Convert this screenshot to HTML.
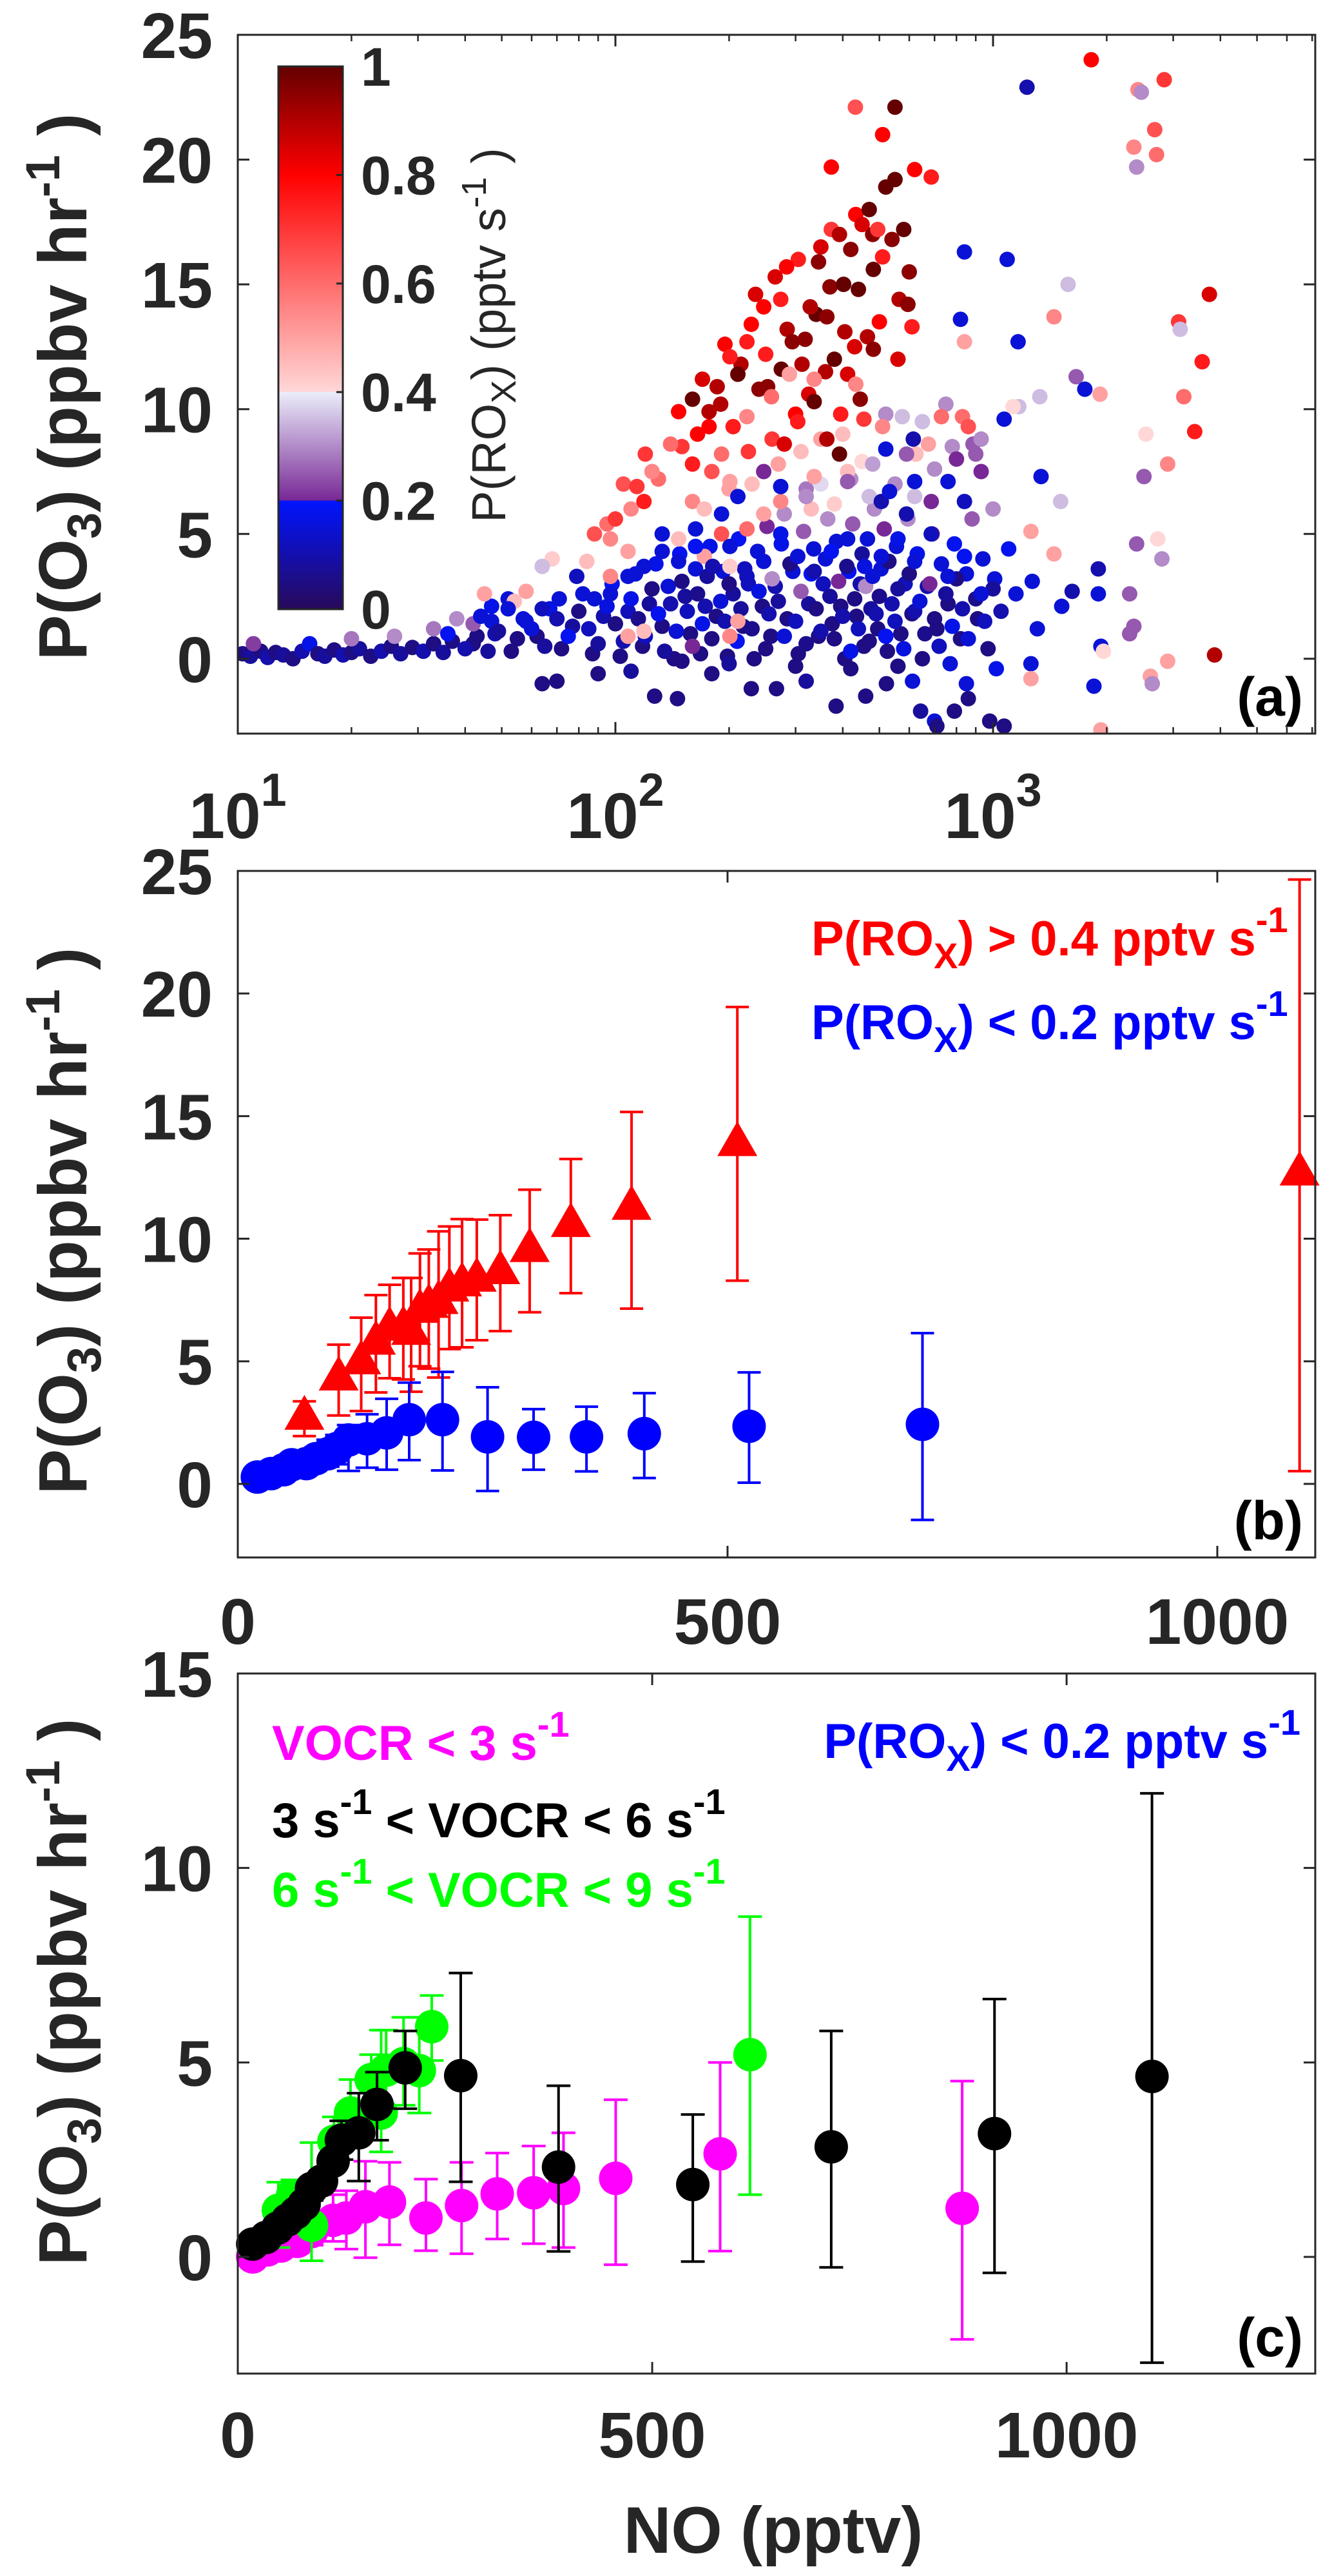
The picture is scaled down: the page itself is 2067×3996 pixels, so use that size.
<!DOCTYPE html>
<html>
<head>
<meta charset="utf-8">
<style>
html,body{margin:0;padding:0;background:#fff;}
svg{display:block;}
text{font-family:"Liberation Sans",Arial,sans-serif;}
</style>
</head>
<body>
<svg id="fig" xmlns="http://www.w3.org/2000/svg" width="2067" height="3996" viewBox="0 0 2067 3996">
<defs>
<linearGradient id="cmap" x1="0" y1="1" x2="0" y2="0">
<stop offset="0" stop-color="rgb(40,10,90)"/>
<stop offset="0.2" stop-color="rgb(0,20,255)"/>
<stop offset="0.2" stop-color="rgb(120,40,150)"/>
<stop offset="0.4" stop-color="rgb(235,237,250)"/>
<stop offset="0.4" stop-color="rgb(255,215,215)"/>
<stop offset="0.8" stop-color="rgb(255,0,0)"/>
<stop offset="1" stop-color="rgb(100,0,0)"/>
</linearGradient>
</defs>
<g id="panelA"></g>
<g id="panelB"></g>
<g id="panelC"></g>
</svg>
<script>
// ===== Panel (a) scatter data: NO (pptv), P(O3) (ppbv/hr), P(ROx) (pptv/s) =====
const aNO = [
10.3,10.8,11.5,12,12.6,13.2,14,14.8,15.5,16.3,17,18,19,20,21,22.5,24,25.5,27,29,31,33,35,37,40,43,46,11,20,26,33,38,42,36,44,47,52,
55,60,65,70,75,80,85,90,95,100,105,110,115,120,125,130,135,140,145,150,155,160,165,170,175,180,190,195,200,210,215,220,230,240,250,255,260,270,280,290,300,310,320,330,340,350,360,370,380,390,400,410,420,430,440,450,460,470,480,490,500,520,530,550,560,580,600,620,640,660,680,700,720,750,780,800,830,860,900,950,1000,
64,70,90,110,127,146,180,229,267,320,384,460,522,643,700,710,790,860,980,1070,612,770,1020,1260,420,560,850,300,200,150,
147,160,177,186,201,223,229,247,274,284,294,312,328,345,363,373,392,402,433,450,470,482,495,510,520,550,564,580,595,610,620,686,550,432,510,373,412,445,482,336,280,392,363,304,253,211,177,160,119,114,100,88,97,125,140,191,223,259,289,336,433,510,625,730,830,860,674,247,201,172,147,108,84,68,64,58,54,45,97,211,201,108,119,412,336,274,223,191,172,201,
1170,1330,1510,1260,1450,1260,1450,1580,1820,1230,2420,2470,2840,2680,2360,2710,2400,3740,3100,3130,3580,3200,3420,2900,2510,2540,2730,2400,2800,2300,2360,2300,2900,2610,2640,3860,1930,1960,1900,1900,1850,1930,1620,1520,1310,1270,1340,1660,1750,1920,1130,1070,1165,1090,840,820,840,575,615,520,
133,147,163,181,201,223,247,274,304,336,373,412,457,506,560,620,686,760,840,930,506,532,590,620,686,760,840,930,800,885,930,590,412,320,274,247,211,191,163,133,119,108,97,88,79,71,64,58,52,47,49
];
const aPO3 = [
0.2,0.1,0.3,0.05,0.25,0.15,0.0,0.3,0.6,0.2,0.1,0.35,0.15,0.25,0.4,0.1,0.3,0.5,0.2,0.45,0.3,0.6,0.25,0.7,0.4,0.9,0.3,0.6,0.8,0.9,1.2,1.6,1.4,1.0,1.7,2.1,2.4,
0.8,1.2,0.5,1.6,0.9,1.9,1.2,0.6,2.1,1.4,0.7,2.4,1.6,0.9,2.8,1.8,0.3,2.2,1.1,3.1,1.9,0.5,2.6,1.4,3.3,0.8,2.3,1.5,3.0,0.7,2.0,3.6,1.2,2.7,0.4,1.8,3.2,2.3,0.9,3.8,1.5,2.7,0.6,3.4,2.0,1.1,4.0,2.5,0.8,3.1,1.7,3.7,0.3,2.4,1.2,4.2,2.9,0.7,3.3,1.8,2.5,0.9,3.9,1.5,2.8,0.4,3.4,1.9,2.3,1.0,3.0,1.6,0.5,2.6,1.3,3.2,2.0,0.8,2.4,1.5,2.8,
-1.0,-0.9,-0.6,-0.5,-1.5,-1.6,-0.6,-1.2,-1.2,-0.9,-1.9,-1.5,-1.0,-2.1,-2.5,-2.7,-2.1,-1.6,-2.5,-2.7,-0.9,-0.2,-0.4,-0.2,-0.4,-0.3,-1.0,-0.3,-0.2,-0.1,
9.9,10.4,9.3,10.9,12.1,12.7,13.4,14.1,14.4,15.7,12.7,11.8,14.1,15.9,13.7,17.2,17.0,15.0,17.8,17.4,18.0,15.6,17.2,16.1,18.9,19.2,14.4,17.2,14.2,13.3,19.6,19.3,22.1,22.1,21.0,19.7,11.4,10.4,12.4,10.3,8.6,8.2,8.8,9.5,10.9,11.4,9.9,7.8,6.3,6.9,5.6,5.0,4.8,7.5,8.6,8.2,9.7,10.5,11.4,11.2,11.0,9.3,8.2,9.7,9.7,9.3,8.6,5.8,7.1,6.0,4.8,4.3,3.9,4.0,3.7,2.7,2.3,2.6,3.3,1.5,0.9,0.9,1.1,7.5,7.3,6.3,5.2,5.0,4.1,3.7,
10.1,10.5,6.3,5.1,4.2,-0.8,13.7,15.0,24.0,22.9,22.8,22.7,23.2,21.2,20.5,20.2,19.7,14.6,13.5,13.2,11.9,10.5,9.1,7.8,7.3,9.0,4.8,4.6,4.0,2.6,1.3,1.0,-0.1,-0.7,-1.0,0.15,0.5,0.3,3.6,2.6,-1.1,-2.85,2.7,2.1,1.2,3.1,7.3,11.3,10.8,10.6,10.1,9.6,12.7,16.0,16.3,13.6,12.7,9.7,8.8,8.4,
4.3,3.9,4.5,3.7,4.5,3.3,3.9,5.0,4.1,3.5,4.3,4.8,3.7,4.1,4.8,3.9,5.0,3.3,4.1,2.6,6.3,6.7,5.8,7.1,6.3,7.1,6.3,7.5,8.0,8.6,8.8,8.2,7.1,6.5,6.9,7.5,6.5,5.8,5.2,5.0,3.7,3.3,2.6,2.4,3.3,2.4,2.0,1.5,2.0,1.5,1.1
];
const aPROx = [
.05,.08,.05,.1,.05,.08,.05,.1,.17,.05,.08,.05,.1,.05,.08,.05,.1,.05,.08,.05,.1,.05,.08,.05,.1,.05,.08,.22,.28,.3,.28,.3,.25,.18,.15,.17,.15,
.05,.15,.08,.1,.18,.05,.12,.08,.16,.05,.1,.17,.06,.12,.05,.18,.08,.1,.15,.05,.12,.2,.06,.17,.08,.05,.15,.1,.05,.18,.08,.12,.06,.16,.05,.1,.3,.08,.15,.05,.12,.25,.06,.18,.05,.1,.15,.08,.05,.2,.1,.06,.17,.05,.12,.08,.3,.05,.15,.1,.06,.18,.05,.12,.08,.16,.05,.1,.15,.06,.2,.05,.12,.08,.17,.05,.1,.15,.06,.12,.08,
.05,.05,.05,.08,.05,.05,.05,.05,.05,.08,.05,.05,.05,.08,.15,.05,.05,.05,.05,.05,.15,.15,.17,.15,.05,.05,.15,.05,.08,.05,
.8,1.0,.8,.9,.75,.75,.8,.8,.75,.8,.95,.9,.9,.95,.95,.7,.9,1.0,.8,.85,1.0,1.0,.7,.75,1.0,1.0,.9,1.0,.95,.75,.8,.75,1.0,.65,.8,.8,.85,.95,.95,1.0,.85,1.0,.9,.75,.95,1.0,.9,.75,.75,.7,.7,.65,.55,.55,.6,.6,.55,.6,.5,.55,.55,.55,.45,.6,.6,.65,.5,.5,.5,.45,.45,.5,.45,.42,.35,.5,.45,.5,.55,.5,.55,.5,.45,.45,.5,.55,.6,.65,.5,.42,
.35,.35,.35,.5,.5,.5,.55,.35,.8,.1,.55,.3,.7,.65,.55,.6,.3,.85,.7,.35,.75,.6,.75,.55,.25,.4,.4,.25,.3,.25,.25,.25,.5,.5,.3,.9,.15,.4,.1,.15,.15,.5,.1,.15,.15,.15,.15,.25,.15,.5,.4,.15,.15,.15,.15,.15,.5,.35,.1,.15,
.15,.15,.18,.1,.15,.12,.15,.17,.15,.1,.18,.15,.16,.15,.17,.15,.12,.15,.18,.15,.1,.15,.1,.15,.2,.15,.12,.2,.2,.25,.3,.25,.25,.3,.15,.2,.15,.15,.15,.15,.15,.15,.15,.15,.12,.15,.12,.15,.15,.15,.08
];
// additional hand-read points filling the dense cloud
const aNO2 = [
42,48,53,57,62,67,72,77,82,87,93,98,103,108,113,118,123,128,133,138,143,148,153,158,163,168,173,178,185,193,198,205,212,218,225,233,238,245,252,258,265,275,285,295,305,315,325,335,345,355,365,375,385,395,405,415,425,435,445,455,465,475,485,495,505,515,525,540,555,570,585,595,610,630,650,670,690,710,730,760,790,820,850,880,910,940,970,1010,1050,1100,1150,
150,165,170,180,190,195,205,215,225,235,240,250,260,265,275,285,300,305,318,325,340,350,360,370,380,395,405,420,430,440,455,465,480,500,540,560,600,130,120,110,105,95,160,200,230,270,310,350,400,450,380,330,
280,320,420,480,550,620,700,780,900,1000,520,650,750,470,350
];
const aPO32 = [
0.6,1.0,0.3,1.6,0.9,2.0,0.4,1.3,2.6,0.2,1.7,3.0,0.1,1.9,3.4,0.5,2.2,3.8,1.3,2.9,0.0,4.2,2.5,1.0,3.6,0.2,2.1,4.5,1.7,3.5,0.1,2.6,4.8,1.3,3.0,0.0,4.3,2.1,5.3,0.9,2.9,4.6,1.6,3.5,0.2,5.1,2.2,4.4,0.9,3.0,5.6,1.4,4.7,2.1,0.0,3.5,5.4,1.7,3.0,0.5,4.8,2.0,6.0,1.2,3.6,5.2,0.3,2.2,4.5,1.0,3.0,5.6,1.8,4.2,0.0,2.9,5.0,1.2,3.8,2.2,4.6,0.8,3.4,5.6,1.6,4.0,0.4,3.2,1.9,4.4,2.6,
8.5,9.0,11.2,7.5,10.2,12.6,9.3,11.8,8.3,14.6,10.8,12.2,8.8,15.3,11.6,13.2,9.8,16.0,12.8,10.6,13.8,16.5,11.5,14.9,12.0,9.8,13.1,16.4,12.5,14.8,9.6,12.9,17.0,13.5,16.8,12.0,15.5,7.2,8.2,6.0,7.0,5.4,6.3,6.8,7.0,7.8,8.3,8.8,9.0,7.9,6.2,6.0,
5.8,6.8,7.2,7.8,7.0,6.5,7.6,8.5,8.2,6.0,9.8,9.5,10.2,6.5,7.0
];
const aPROx2 = [
.05,.1,.05,.15,.05,.17,.05,.08,.15,.05,.1,.18,.05,.12,.15,.05,.08,.17,.05,.15,.05,.18,.08,.05,.15,.05,.1,.17,.05,.15,.05,.08,.18,.05,.12,.05,.15,.05,.2,.05,.1,.17,.05,.15,.05,.25,.08,.15,.05,.12,.3,.05,.15,.05,.05,.18,.25,.05,.1,.05,.15,.08,.3,.05,.15,.2,.05,.1,.15,.05,.12,.3,.05,.17,.05,.1,.2,.05,.15,.05,.18,.05,.15,.25,.05,.15,.05,.15,.1,.18,.15,
.7,.8,.85,.65,.9,.8,.75,.9,.7,.85,.95,.75,.7,.85,1.0,.9,.8,.75,.95,.85,1.0,.85,.9,.95,1.0,.75,.9,.95,.85,1.0,.7,.9,.95,.8,.95,.85,.95,.6,.7,.55,.65,.6,.55,.5,.45,.5,.45,.5,.45,.4,.42,.45,
.3,.28,.3,.32,.3,.35,.3,.3,.25,.3,.3,.35,.3,.35,.38
];
const aYTicks = [0,5,10,15,20,25];
const aXDecades = [1,2,3];
const cbTicks = [0,0.2,0.4,0.6,0.8,1];
const cbTickLabels = ["0","0.2","0.4","0.6","0.8","1"];

// ===== Panel (b) =====
const bRedNO  = [68,103,126,141,155,169,177,186,195,205,216,229,244,268,298,340,402,510,1084];
const bRedY   = [2.84,4.44,5.1,5.9,6.47,6.5,6.3,7.2,7.4,7.56,8.07,8.28,8.47,8.78,9.68,10.7,11.4,14.0,12.8];
const bRedHi  = [3.37,5.68,6.78,7.7,8.12,8.4,8.4,9.4,9.56,10.3,10.5,10.8,10.78,10.96,12.0,13.25,15.17,19.45,24.65];
const bRedLo  = [1.95,2.79,2.97,3.73,4.31,4.26,3.76,4.8,4.7,4.34,5.5,5.57,5.86,6.23,7.0,7.78,7.15,8.29,0.52];
const bBlueNO = [20,34,47,55,70,80,92,101,113,132,152,175,209,255,302,356,415,522,699];
const bBlueY  = [0.28,0.42,0.58,0.78,0.83,1.03,1.23,1.44,1.79,1.84,2.08,2.62,2.62,1.92,1.9,1.92,2.05,2.35,2.43];
const bBlueHi = [0.5,0.7,0.9,1.1,1.2,1.5,1.8,2.0,2.4,2.84,3.47,4.13,4.57,3.94,3.05,3.15,3.7,4.55,6.15];
const bBlueLo = [0.1,0.2,0.3,0.45,0.45,0.6,0.7,0.8,0.53,0.66,0.58,0.97,0.55,-0.29,0.58,0.51,0.24,0.05,-1.47];
const bXTicks = [0,500,1000];
const bYTicks = [0,5,10,15,20,25];

// ===== Panel (c) =====
const cMagNO = [18,36,52,72,89,115,131,154,183,227,270,313,357,393,456,582,874];
const cMagY  = [0.0,0.18,0.28,0.4,0.65,0.94,1.0,1.29,1.41,1.0,1.32,1.62,1.65,1.76,2.02,2.65,1.25];
const cMagHi = [0.3,0.5,0.6,0.8,1.1,1.6,1.7,2.46,2.43,2.0,2.43,2.67,2.85,3.19,4.04,5.0,4.52];
const cMagLo = [-0.2,-0.1,0.0,0.1,0.3,0.4,0.2,-0.02,0.31,0.16,0.08,0.46,0.34,0.24,-0.2,0.15,-2.12];
const cGrnNO = [49,66,89,116,136,161,173,179,200,219,234,618];
const cGrnY  = [1.2,1.58,0.81,2.97,3.7,4.56,3.7,4.8,4.97,4.79,5.92,5.2];
const cGrnHi = [1.92,1.98,2.94,3.6,4.56,5.2,5.83,5.83,6.16,6.16,6.72,8.75];
const cGrnLo = [0.24,0.9,-0.1,2.3,2.9,3.9,2.7,3.8,3.9,3.7,5.05,1.6];
const cBlkNO = [18,34,48,60,70,80,89,101,115,125,146,168,202,269,387,549,716,913,1103];
const cBlkY  = [0.33,0.5,0.74,0.95,1.13,1.35,1.76,1.95,2.46,3.0,3.19,3.92,4.86,4.66,2.31,1.86,2.83,3.17,4.64];
const cBlkHi = [0.5,0.7,0.95,1.2,1.38,1.6,2.0,2.2,2.7,3.5,4.21,4.75,5.81,7.3,4.4,3.66,5.81,6.63,11.92];
const cBlkLo = [0.15,0.3,0.5,0.7,0.9,1.1,1.45,1.7,2.2,2.5,1.95,3.0,3.81,1.93,0.14,-0.12,-0.27,-0.41,-2.72];
const cXTicks = [0,500,1000];
const cYTicks = [0,5,10,15];

const NS = "http://www.w3.org/2000/svg";
const AX = "#262626";
function el(tag, attrs, parent){
  const e = document.createElementNS(NS, tag);
  for (const k in attrs) e.setAttribute(k, attrs[k]);
  parent.appendChild(e);
  return e;
}
function lin(d0,d1,p0,p1){ return v => p0 + (v-d0)*(p1-p0)/(d1-d0); }

function cmap(v){
  const st = [[0,[40,10,90]],[0.1999,[0,20,255]],[0.2,[120,40,150]],[0.3999,[235,237,250]],[0.4,[255,215,215]],[0.8,[255,0,0]],[1,[100,0,0]]];
  v = Math.max(0, Math.min(1, v));
  for (let i=0;i<st.length-1;i++){
    const a=st[i], b=st[i+1];
    if (v<=b[0]){
      const t=(v-a[0])/(b[0]-a[0]||1);
      const c=a[1].map((x,j)=>Math.round(x+(b[1][j]-x)*t));
      return "rgb("+c.join(",")+")";
    }
  }
  return "rgb(100,0,0)";
}

function frame(g, L, R, T, B, name){
  const r = el("rect",{x:L,y:T,width:R-L,height:B-T,fill:"none",stroke:AX,"stroke-width":3},g);
  
  
}
function yTicks(g, ticks, ys, L, R, name){
  ticks.forEach(t=>{
    const y = ys(t);
    const l1 = el("line",{x1:L,y1:y,x2:L+18,y2:y,stroke:AX,"stroke-width":3},g);
    
    
    const l2 = el("line",{x1:R,y1:y,x2:R-18,y2:y,stroke:AX,"stroke-width":3},g);
    
    
    const tx = el("text",{x:330,y:y+36,"text-anchor":"end","font-size":100,"font-weight":"bold",fill:AX},g);
    tx.textContent = String(t);
    
    
  });
}
function xTicksLinear(g, ticks, xs, T, B, labelY, name){
  ticks.forEach(t=>{
    const x = xs(t);
    const l1 = el("line",{x1:x,y1:B,x2:x,y2:B-18,stroke:AX,"stroke-width":3},g);
    
    
    const l2 = el("line",{x1:x,y1:T,x2:x,y2:T+18,stroke:AX,"stroke-width":3},g);
    
    
    const tx = el("text",{x:x,y:labelY,"text-anchor":"middle","font-size":100,"font-weight":"bold",fill:AX},g);
    tx.textContent = String(t);
    
    
  });
}
function yLabel(g, cy, name){
  const t = el("text",{transform:"translate(134,"+cy+") rotate(-90)","text-anchor":"middle","font-size":106,"font-weight":"bold",fill:AX},g);
  
  
  t.innerHTML = 'P(O<tspan dy="22" font-size="74">3</tspan><tspan dy="-22">) (ppbv hr</tspan><tspan dy="-42" font-size="74">-1</tspan><tspan dy="42"> )</tspan>';
}
function panelLabel(g, txt, y, name){
  const t = el("text",{x:2022,y:y,"text-anchor":"end","font-size":84,"font-weight":"bold",fill:"#000"},g);
  t.textContent = txt;
  
  
}
function errbars(g, xs, ys, X, Hi, Lo, color, cap, name){
  X.forEach((v,i)=>{
    const x = xs(v), yh = ys(Hi[i]), yl = ys(Lo[i]);
    const e = el("path",{d:"M"+x+" "+yh+"V"+yl+"M"+(x-cap/2)+" "+yh+"H"+(x+cap/2)+"M"+(x-cap/2)+" "+yl+"H"+(x+cap/2),stroke:color,"stroke-width":4,fill:"none"},g);
    
    
  });
}
function circles(g, xs, ys, X, Y, color, r, name){
  X.forEach((v,i)=>{
    const c = el("ellipse",{cx:xs(v),cy:ys(Y[i]),rx:r,ry:r,fill:color},g);
    
    
  });
}

// ===================== Panel A =====================
(function(){
  const g = document.getElementById("panelA");
  const L=369,R=2041,T=54,B=1138;
  const xs = v => L + (Math.log10(v)-1)*586;
  const ys = lin(-3,25,B,T);
  const sg = el("g",{},g);
  
  
  const clip = el("clipPath",{id:"clipA"},g);
  el("rect",{x:L,y:T,width:R-L,height:B-T},clip);
  sg.setAttribute("clip-path","url(#clipA)");
  const allNO = aNO2.concat(aNO), allY = aPO32.concat(aPO3), allC = aPROx2.concat(aPROx);
  allNO.forEach((v,i)=>{
    const c = el("circle",{cx:xs(v),cy:ys(allY[i]),r:12,fill:cmap(allC[i])},sg);
    
    
  });
  frame(g,L,R,T,B,'axes-frame-a');
  yTicks(g,aYTicks,ys,L,R,'y-axis-a');
  aXDecades.forEach(d=>{
    const x = xs(Math.pow(10,d));
    const l1 = el("line",{x1:x,y1:B,x2:x,y2:B-18,stroke:AX,"stroke-width":3},g);
    
    
    const l2 = el("line",{x1:x,y1:T,x2:x,y2:T+18,stroke:AX,"stroke-width":3},g);
    
    
    const t = el("text",{x:x,y:1300,"text-anchor":"middle","font-size":100,"font-weight":"bold",fill:AX},g);
    t.innerHTML = '10<tspan dy="-50" font-size="72">'+d+'</tspan>';
    
    
    for (let m=2;m<=9;m++){
      const v = m*Math.pow(10,d);
      const xm = xs(v);
      if (xm>R) continue;
      const a1 = el("line",{x1:xm,y1:B,x2:xm,y2:B-10,stroke:AX,"stroke-width":2.5},g);
      
      
      const a2 = el("line",{x1:xm,y1:T,x2:xm,y2:T+10,stroke:AX,"stroke-width":2.5},g);
      
      
    }
  });
  const cbL=432,cbR=532,cbT=103,cbB=945;
  const cs = lin(0,1,cbB,cbT);
  const cb = el("rect",{x:cbL,y:cbT,width:cbR-cbL,height:cbB-cbT,fill:"url(#cmap)",stroke:AX,"stroke-width":3},g);
  
  
  cbTicks.forEach((t,i)=>{
    const y = cs(t);
    const l = el("line",{x1:cbR,y1:y,x2:cbR-10,y2:y,stroke:AX,"stroke-width":3},g);
    
    
    const tx = el("text",{x:560,y:y+30,"font-size":84,"font-weight":"bold",fill:AX},g);
    tx.textContent = cbTickLabels[i];
    
    
  });
  const cl = el("text",{transform:"translate(784,520) rotate(-90)","text-anchor":"middle","font-size":74,fill:AX},g);
  cl.innerHTML = 'P(RO<tspan dy="16" font-size="54">X</tspan><tspan dy="-16">) (pptv s</tspan><tspan dy="-30" font-size="54">-1</tspan><tspan dy="30"> )</tspan>';
  
  
  yLabel(g,600,'y-axis-title-a');
  panelLabel(g,"(a)",1110,'panel-label-a');
})();

// ===================== Panel B =====================
(function(){
  const g = document.getElementById("panelB");
  const L=369,R=2041,T=1351,B=2416;
  const xs = lin(0,1100,L,R);
  const ys = lin(-3,25,B,T);
  const rg = el("g",{},g);
  
  
  errbars(rg,xs,ys,bRedNO,bRedHi,bRedLo,"#ff0000",36,'high-prox');
  bRedNO.forEach((v,i)=>{
    const x=xs(v), y=ys(bRedY[i]);
    const p = el("polygon",{points:x+","+(y-30)+" "+(x-31)+","+(y+24)+" "+(x+31)+","+(y+24),fill:"#ff0000"},rg);
    
    
  });
  const bg = el("g",{},g);
  
  
  errbars(bg,xs,ys,bBlueNO,bBlueHi,bBlueLo,"#0000ff",36,'low-prox');
  circles(bg,xs,ys,bBlueNO,bBlueY,"#0000ff",26,'low-prox');
  frame(g,L,R,T,B,'axes-frame-b');
  yTicks(g,bYTicks,ys,L,R,'y-axis-b');
  xTicksLinear(g,bXTicks,xs,T,B,2550,'x-axis-b');
  const l1 = el("text",{x:1259,y:1482,"font-size":76,"font-weight":"bold",fill:"#ff0000"},g);
  l1.innerHTML = 'P(RO<tspan dy="20" font-size="56">X</tspan><tspan dy="-20">) &gt; 0.4 pptv s</tspan><tspan dy="-36" font-size="56">-1</tspan>';
  
  
  const l2 = el("text",{x:1259,y:1612,"font-size":76,"font-weight":"bold",fill:"#0000ff"},g);
  l2.innerHTML = 'P(RO<tspan dy="20" font-size="56">X</tspan><tspan dy="-20">) &lt; 0.2 pptv s</tspan><tspan dy="-36" font-size="56">-1</tspan>';
  
  
  yLabel(g,1894,'y-axis-title-b');
  panelLabel(g,"(b)",2388,'panel-label-b');
})();

// ===================== Panel C =====================
(function(){
  const g = document.getElementById("panelC");
  const L=369,R=2041,T=2596,B=3682;
  const xs = lin(0,1300,L,R);
  const ys = lin(-3,15,B,T);
  const mg = el("g",{},g);
  
  
  errbars(mg,xs,ys,cMagNO,cMagHi,cMagLo,"#ff00ff",37,'vocr-low');
  circles(mg,xs,ys,cMagNO,cMagY,"#ff00ff",26,'vocr-low');
  const gg = el("g",{},g);
  
  
  errbars(gg,xs,ys,cGrnNO,cGrnHi,cGrnLo,"#00ff00",37,'vocr-high');
  circles(gg,xs,ys,cGrnNO,cGrnY,"#00ff00",26,'vocr-high');
  const kg = el("g",{},g);
  
  
  errbars(kg,xs,ys,cBlkNO,cBlkHi,cBlkLo,"#000000",37,'vocr-mid');
  circles(kg,xs,ys,cBlkNO,cBlkY,"#000000",26,'vocr-mid');
  frame(g,L,R,T,B,'axes-frame-c');
  yTicks(g,cYTicks,ys,L,R,'y-axis-c');
  xTicksLinear(g,cXTicks,xs,T,B,3812,'x-axis-c');
  const t1 = el("text",{x:422,y:2730,"font-size":76,"font-weight":"bold",fill:"#ff00ff"},g);
  t1.innerHTML = 'VOCR &lt; 3 s<tspan dy="-36" font-size="56">-1</tspan>';
  
  
  const t2 = el("text",{x:422,y:2850,"font-size":76,"font-weight":"bold",fill:"#000000"},g);
  t2.innerHTML = '3 s<tspan dy="-36" font-size="56">-1</tspan><tspan dy="36"> &lt; VOCR &lt; 6 s</tspan><tspan dy="-36" font-size="56">-1</tspan>';
  
  
  const t3 = el("text",{x:422,y:2958,"font-size":76,"font-weight":"bold",fill:"#00ff00"},g);
  t3.innerHTML = '6 s<tspan dy="-36" font-size="56">-1</tspan><tspan dy="36"> &lt; VOCR &lt; 9 s</tspan><tspan dy="-36" font-size="56">-1</tspan>';
  
  
  const t4 = el("text",{x:2018,y:2727,"text-anchor":"end","font-size":76,"font-weight":"bold",fill:"#0000ff"},g);
  t4.innerHTML = 'P(RO<tspan dy="20" font-size="56">X</tspan><tspan dy="-20">) &lt; 0.2 pptv s</tspan><tspan dy="-36" font-size="56">-1</tspan>';
  
  
  const xl = el("text",{x:1200,y:3960,"text-anchor":"middle","font-size":102,"font-weight":"bold",fill:AX},g);
  xl.textContent = "NO (pptv)";
  
  
  yLabel(g,3090,'y-axis-title-c');
  panelLabel(g,"(c)",3655,'panel-label-c');
})();
</script>
</body>
</html>
